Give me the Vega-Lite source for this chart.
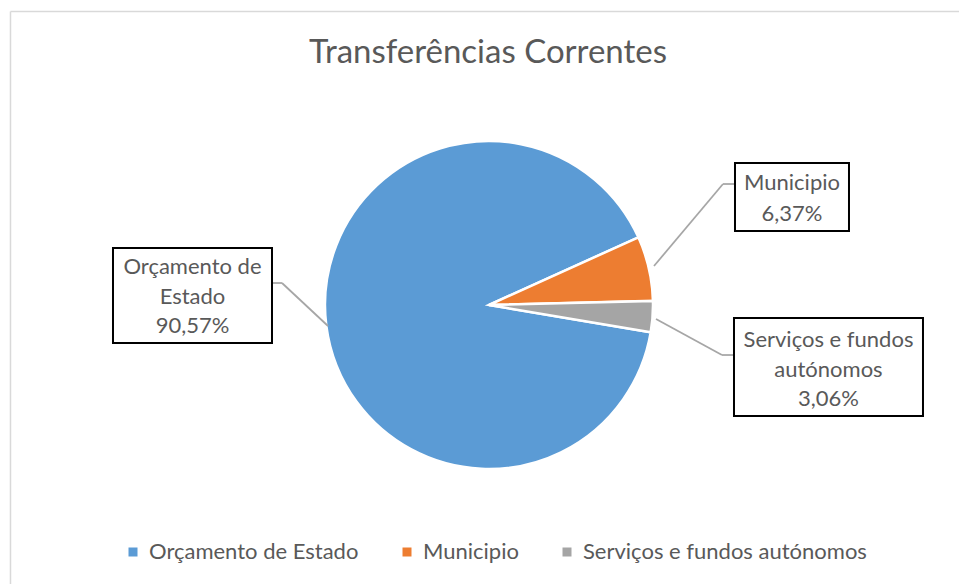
{
  "$schema": "https://vega.github.io/schema/vega-lite/v6.json",
  "width": 959,
  "height": 584,
  "autosize": "none",
  "padding": 0,
  "background": "white",
  "config": {"view": {"stroke": null}, "font": "Lato"},
  "datasets": {
    "slices": [
      {"category": "Orçamento de Estado", "value": 90.57, "ord": 1, "label": "Orçamento de\nEstado\n90,57%"},
      {"category": "Municipio", "value": 6.37, "ord": 2, "label": "Municipio\n6,37%"},
      {"category": "Serviços e fundos autónomos", "value": 3.06, "ord": 3, "label": "Serviços e fundos\nautónomos\n3,06%"}
    ]
  },
  "layer": [
    {
      "data": {"values": [{}]},
      "mark": {"type": "rule", "color": "#D9D9D9", "strokeWidth": 1.5},
      "encoding": {
        "x": {"datum": -291.77, "scale": {"domain": [-298.17, 286.59], "nice": false, "zero": false}, "axis": null},
        "x2": {"datum": 286.59},
        "y": {"datum": 178.96, "scale": {"domain": [-170.12, 185.98], "nice": false, "zero": false}, "axis": null}
      }
    },
    {
      "data": {"values": [{}]},
      "mark": {"type": "rule", "color": "#D9D9D9", "strokeWidth": 1.5},
      "encoding": {
        "x": {"datum": -291.77, "scale": {"domain": [-298.17, 286.59], "nice": false, "zero": false}, "axis": null},
        "y": {"datum": 178.96, "scale": {"domain": [-170.12, 185.98], "nice": false, "zero": false}, "axis": null},
        "y2": {"datum": -170.12}
      }
    },
    {
      "data": {"values": [{}]},
      "mark": {"type": "text", "text": "Transferências Correntes", "fontSize": 33, "color": "#595959", "align": "center", "baseline": "alphabetic"},
      "encoding": {
        "x": {"datum": -0.6, "scale": {"domain": [-298.17, 286.59], "nice": false, "zero": false}, "axis": null},
        "y": {"datum": 147.56, "scale": {"domain": [-170.12, 185.98], "nice": false, "zero": false}, "axis": null}
      }
    },
    {
      "data": {"name": "slices"},
      "mark": {"type": "arc", "outerRadius": 164, "stroke": "white", "strokeWidth": 2.5},
      "encoding": {
        "theta": {"field": "value", "type": "quantitative", "stack": true, "scale": {"range": [1.738, 8.0212]}},
        "order": {"field": "ord", "type": "quantitative"},
        "color": {
          "field": "category",
          "type": "nominal",
          "scale": {
            "domain": ["Orçamento de Estado", "Municipio", "Serviços e fundos autónomos"],
            "range": ["#5B9BD5", "#ED7D31", "#A5A5A5"]
          },
          "legend": {
            "orient": "none",
            "legendX": 122,
            "legendY": 541,
            "direction": "horizontal",
            "title": null,
            "symbolType": "square",
            "symbolSize": 81,
            "symbolStrokeWidth": 0,
            "labelFontSize": 22,
            "labelFont": "Lato",
            "labelColor": "#595959",
            "labelOffset": 5,
            "labelLimit": 500,
            "columnPadding": 37,
            "padding": 0
          }
        },
        "x": {"datum": 0, "scale": {"domain": [-298.17, 286.59], "nice": false, "zero": false}, "axis": null},
        "y": {"datum": 0, "scale": {"domain": [-170.12, 185.98], "nice": false, "zero": false}, "axis": null}
      }
    },
    {
      "data": {"values": [{}]},
      "mark": {"type": "rule", "color": "#A6A6A6", "strokeWidth": 1.75},
      "encoding": {
        "x": {"datum": -132.32, "scale": {"domain": [-298.17, 286.59], "nice": false, "zero": false}, "axis": null},
        "x2": {"datum": -126.22},
        "y": {"datum": 13.41, "scale": {"domain": [-170.12, 185.98], "nice": false, "zero": false}, "axis": null},
        "y2": {"datum": 13.41}
      }
    },
    {
      "data": {"values": [{}]},
      "mark": {"type": "rule", "color": "#A6A6A6", "strokeWidth": 1.75},
      "encoding": {
        "x": {"datum": -126.22, "scale": {"domain": [-298.17, 286.59], "nice": false, "zero": false}, "axis": null},
        "x2": {"datum": -98.17},
        "y": {"datum": 13.41, "scale": {"domain": [-170.12, 185.98], "nice": false, "zero": false}, "axis": null},
        "y2": {"datum": -12.8}
      }
    },
    {
      "data": {"values": [{}]},
      "mark": {"type": "rule", "color": "#A6A6A6", "strokeWidth": 1.75},
      "encoding": {
        "x": {"datum": 150.0, "scale": {"domain": [-298.17, 286.59], "nice": false, "zero": false}, "axis": null},
        "x2": {"datum": 142.68},
        "y": {"datum": 73.78, "scale": {"domain": [-170.12, 185.98], "nice": false, "zero": false}, "axis": null},
        "y2": {"datum": 73.78}
      }
    },
    {
      "data": {"values": [{}]},
      "mark": {"type": "rule", "color": "#A6A6A6", "strokeWidth": 1.75},
      "encoding": {
        "x": {"datum": 142.68, "scale": {"domain": [-298.17, 286.59], "nice": false, "zero": false}, "axis": null},
        "x2": {"datum": 100.61},
        "y": {"datum": 73.78, "scale": {"domain": [-170.12, 185.98], "nice": false, "zero": false}, "axis": null},
        "y2": {"datum": 23.78}
      }
    },
    {
      "data": {"values": [{}]},
      "mark": {"type": "rule", "color": "#A6A6A6", "strokeWidth": 1.75},
      "encoding": {
        "x": {"datum": 101.83, "scale": {"domain": [-298.17, 286.59], "nice": false, "zero": false}, "axis": null},
        "x2": {"datum": 142.07},
        "y": {"datum": -8.54, "scale": {"domain": [-170.12, 185.98], "nice": false, "zero": false}, "axis": null},
        "y2": {"datum": -30.49}
      }
    },
    {
      "data": {"values": [{}]},
      "mark": {"type": "rule", "color": "#A6A6A6", "strokeWidth": 1.75},
      "encoding": {
        "x": {"datum": 142.07, "scale": {"domain": [-298.17, 286.59], "nice": false, "zero": false}, "axis": null},
        "x2": {"datum": 149.39},
        "y": {"datum": -30.49, "scale": {"domain": [-170.12, 185.98], "nice": false, "zero": false}, "axis": null},
        "y2": {"datum": -30.49}
      }
    },
    {
      "data": {"values": [{}]},
      "mark": {"type": "rect", "fill": "white", "stroke": "black", "strokeWidth": 2},
      "encoding": {
        "x": {"datum": -229.27, "scale": {"domain": [-298.17, 286.59], "nice": false, "zero": false}, "axis": null},
        "x2": {"datum": -132.32},
        "y": {"datum": 34.76, "scale": {"domain": [-170.12, 185.98], "nice": false, "zero": false}, "axis": null},
        "y2": {"datum": -23.17}
      }
    },
    {
      "data": {"values": [{}]},
      "mark": {"type": "rect", "fill": "white", "stroke": "black", "strokeWidth": 2},
      "encoding": {
        "x": {"datum": 150.0, "scale": {"domain": [-298.17, 286.59], "nice": false, "zero": false}, "axis": null},
        "x2": {"datum": 219.51},
        "y": {"datum": 86.59, "scale": {"domain": [-170.12, 185.98], "nice": false, "zero": false}, "axis": null},
        "y2": {"datum": 45.12}
      }
    },
    {
      "data": {"values": [{}]},
      "mark": {"type": "rect", "fill": "white", "stroke": "black", "strokeWidth": 2},
      "encoding": {
        "x": {"datum": 149.39, "scale": {"domain": [-298.17, 286.59], "nice": false, "zero": false}, "axis": null},
        "x2": {"datum": 264.63},
        "y": {"datum": -7.93, "scale": {"domain": [-170.12, 185.98], "nice": false, "zero": false}, "axis": null},
        "y2": {"datum": -67.68}
      }
    },
    {
      "data": {"name": "slices"},
      "transform": [{"filter": "datum.category == 'Orçamento de Estado'"}],
      "mark": {"type": "text", "fontSize": 22, "color": "#595959", "align": "center", "baseline": "middle", "lineBreak": "\n", "lineHeight": 29.5},
      "encoding": {
        "text": {"field": "label"},
        "x": {"datum": -180.8, "scale": {"domain": [-298.17, 286.59], "nice": false, "zero": false}, "axis": null},
        "y": {"datum": 23.17, "scale": {"domain": [-170.12, 185.98], "nice": false, "zero": false}, "axis": null}
      }
    },
    {
      "data": {"name": "slices"},
      "transform": [{"filter": "datum.category == 'Municipio'"}],
      "mark": {"type": "text", "fontSize": 22, "color": "#595959", "align": "center", "baseline": "middle", "lineBreak": "\n", "lineHeight": 31},
      "encoding": {
        "text": {"field": "label"},
        "x": {"datum": 184.76, "scale": {"domain": [-298.17, 286.59], "nice": false, "zero": false}, "axis": null},
        "y": {"datum": 74.39, "scale": {"domain": [-170.12, 185.98], "nice": false, "zero": false}, "axis": null}
      }
    },
    {
      "data": {"name": "slices"},
      "transform": [{"filter": "datum.category == 'Serviços e fundos autónomos'"}],
      "mark": {"type": "text", "fontSize": 22, "color": "#595959", "align": "center", "baseline": "middle", "lineBreak": "\n", "lineHeight": 29.5},
      "encoding": {
        "text": {"field": "label"},
        "x": {"datum": 207.0, "scale": {"domain": [-298.17, 286.59], "nice": false, "zero": false}, "axis": null},
        "y": {"datum": -21.34, "scale": {"domain": [-170.12, 185.98], "nice": false, "zero": false}, "axis": null}
      }
    }
  ]
}
